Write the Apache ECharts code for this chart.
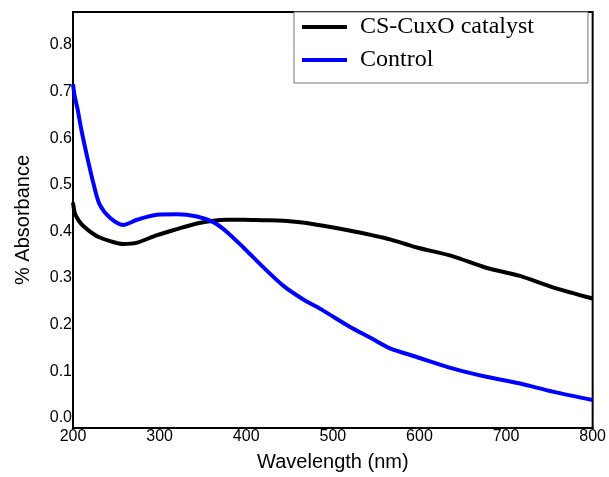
<!DOCTYPE html>
<html>
<head>
<meta charset="utf-8">
<script src="https://cdn.jsdelivr.net/npm/echarts@6/dist/echarts.min.js"></script>
<style>
  html, body { margin: 0; padding: 0; background: #fff; }
  #chart { width: 609px; height: 477px; }
</style>
</head>
<body>
<div id="chart"></div>
<script>
// wavelength (nm)
const wavelength = [200, 202, 205, 210, 216, 224, 231, 243, 258, 274, 297, 320, 343, 362, 377,
  397, 418, 443, 465, 489, 519, 545, 566, 596, 638, 677, 715, 754, 800]
// CS-CuxO catalyst
const catalyst = [0.462, 0.44, 0.428, 0.415, 0.405, 0.394, 0.387, 0.379, 0.373, 0.376, 0.392, 0.405, 0.417, 0.423, 0.425,
  0.425, 0.424, 0.423, 0.419, 0.412, 0.402, 0.392, 0.383, 0.366, 0.347, 0.322, 0.305, 0.28, 0.256]
// Control
const control = [0.716, 0.69, 0.665, 0.615, 0.563, 0.5, 0.457, 0.429, 0.414, 0.425, 0.436, 0.437, 0.432, 0.42, 0.4,
  0.365, 0.326, 0.283, 0.255, 0.23, 0.196, 0.17, 0.149, 0.131, 0.106, 0.088, 0.074, 0.056, 0.038]
const yTicks = [0, 0.1, 0.2, 0.3, 0.4, 0.5, 0.6, 0.7, 0.8]
const seriesNames = ['CS-CuxO catalyst', 'Control']

const chart = echarts.init(document.getElementById('chart'))

const pairs = (ys) => wavelength.map((x, i) => [x, ys[i]])

const option = {
  animation: false,
  grid: {
    left: 73,
    right: 16,
    top: 12,
    bottom: 45,
    show: true,
    borderColor: '#000',
    borderWidth: 2
  },
  legend: {
    data: seriesNames,
    orient: 'vertical',
    left: 294,
    top: 12,
    padding: [2, 54, 10, 8],
    itemGap: 7,
    itemWidth: 45,
    itemHeight: 4,
    icon: 'rect',
    backgroundColor: '#fff',
    borderColor: '#777',
    borderWidth: 1,
    textStyle: {
      fontFamily: 'Liberation Serif',
      fontSize: 24,
      lineHeight: 26,
      color: '#000',
      padding: [0, 0, 0, 8]
    }
  },
  xAxis: {
    type: 'value',
    min: 200,
    max: 800,
    interval: 100,
    name: 'Wavelength (nm)',
    nameLocation: 'middle',
    nameGap: 24,
    nameTextStyle: { fontFamily: 'Liberation Sans', fontSize: 20, color: '#000' },
    axisLine: { show: true, onZero: false, lineStyle: { color: '#000', width: 2 } },
    axisTick: { show: false },
    splitLine: { show: false },
    axisLabel: {
      margin: 1,
      fontFamily: 'Liberation Sans',
      fontSize: 16,
      color: '#000'
    }
  },
  yAxis: {
    type: 'value',
    min: -0.022,
    max: 0.871,
    name: '% Absorbance',
    nameLocation: 'middle',
    nameGap: 40,
    nameTextStyle: { fontFamily: 'Liberation Sans', fontSize: 20, color: '#000' },
    axisLine: { show: true, onZero: false, lineStyle: { color: '#000', width: 2 } },
    axisTick: { show: false },
    splitLine: { show: false },
    axisLabel: {
      customValues: yTicks,
      margin: 1,
      fontFamily: 'Liberation Sans',
      fontSize: 16,
      color: '#000',
      formatter: (v) => v.toFixed(1)
    }
  },
  series: [
    {
      name: seriesNames[0],
      type: 'line',
      data: pairs(catalyst),
      smooth: 0.3,
      showSymbol: false,
      color: '#000',
      lineStyle: { color: '#000', width: 4 }
    },
    {
      name: seriesNames[1],
      type: 'line',
      data: pairs(control),
      smooth: 0.3,
      showSymbol: false,
      color: '#0000ff',
      lineStyle: { color: '#0000ff', width: 4 }
    }
  ]
}

chart.setOption(option)
</script>
</body>
</html>
